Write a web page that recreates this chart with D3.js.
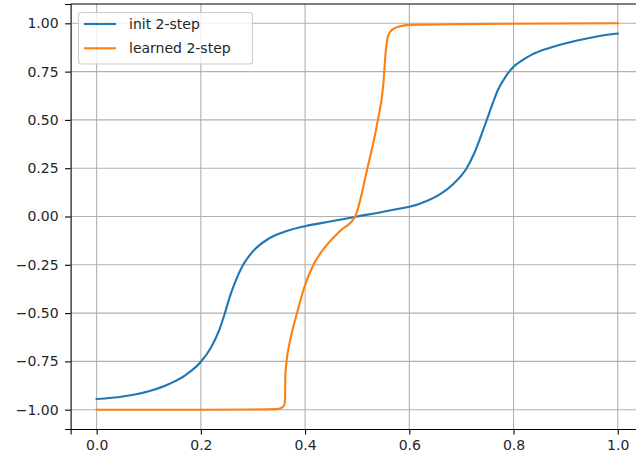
<!DOCTYPE html>
<html>
<head>
<meta charset="utf-8">
<script src="https://cdn.jsdelivr.net/npm/d3@7"></script>
<style>
    body { margin: 0; background: #fff; }
    svg { display: block; font-family: "DejaVu Sans", sans-serif; }
</style>
</head>
<body>
<svg id="chart"></svg>
<script>
    /**
     * @Data
     */
    const initX = [0.00, 0.05, 0.10, 0.14, 0.17, 0.20, 0.22, 0.235, 0.245, 0.255, 0.265, 0.28, 0.30, 0.33, 0.365,
        0.40, 0.45, 0.50, 0.56, 0.62, 0.66, 0.685, 0.71, 0.725, 0.74, 0.75, 0.76, 0.77, 0.785, 0.80, 0.815, 0.835, 0.87,
        0.92, 0.96, 1.00]
    const initY = [-0.945, -0.932, -0.905, -0.866, -0.822, -0.752, -0.675, -0.59, -0.51, -0.42, -0.345, -0.255, -0.18, -0.115, -0.075,
        -0.05, -0.025, 0.00, 0.03, 0.066, 0.117, 0.17, 0.25, 0.33, 0.435, 0.51, 0.585, 0.655, 0.725, 0.775, 0.805, 0.838, 0.874,
        0.91, 0.932, 0.947]

    const learnedX = [0.00, 0.10, 0.20, 0.30, 0.345, 0.355, 0.360, 0.3615, 0.362, 0.364, 0.367, 0.371, 0.377, 0.384, 0.398,
        0.416, 0.441, 0.467, 0.496, 0.52, 0.539, 0.550, 0.555, 0.558, 0.563, 0.572, 0.582, 0.60, 0.70, 0.80, 0.90, 1.00]
    const learnedY = [-1.0, -1.0, -1.0, -0.999, -0.997, -0.99, -0.975, -0.95, -0.83, -0.76, -0.70, -0.645, -0.575, -0.505, -0.37,
        -0.25, -0.15, -0.075, 0.0, 0.255, 0.49, 0.68, 0.86, 0.92, 0.955, 0.975, 0.985, 0.992, 0.996, 0.998, 0.999, 1.0]

    const xTicks = [0.0, 0.2, 0.4, 0.6, 0.8, 1.0]
    const yTicks = [-1.00, -0.75, -0.50, -0.25, 0.00, 0.25, 0.50, 0.75, 1.00]

    const seriesNames = ['init 2-step', 'learned 2-step']
    const seriesColors = ['#1f77b4', '#ff7f0e']

    const series = [
        initX.map((x, i) => ({ x: x, y: initY[i] })),
        learnedX.map((x, i) => ({ x: x, y: learnedY[i] }))
    ]

    /**
     * @Container
     */
    const W = 636
    const H = 459
    const FONT = 14

    const svg = d3.select('#chart')
        .attr('width', W)
        .attr('height', H)

    // matplotlib style 5% margins, right spine falls outside the picture
    const scaleX = d3.scaleLinear().domain([-0.05, 1.05]).range([70.6, 643.8])
    const scaleY = d3.scaleLinear().domain([-1.1, 1.1]).range([429, 4])

    const fmtY = d => d3.format('.2f')(d).replace('-', '\u2212')
    const fmtX = d => d3.format('.1f')(d)

    /**
     * @Grid
     */
    const grid = svg.append('g')
    grid.selectAll('.gx')
        .data(xTicks)
        .enter()
        .append('line')
        .attr('x1', d => scaleX(d))
        .attr('x2', d => scaleX(d))
        .attr('y1', scaleY.range()[0])
        .attr('y2', scaleY.range()[1])
        .attr('stroke', '#b0b0b0')
        .attr('stroke-width', 1.1)
    grid.selectAll('.gy')
        .data(yTicks)
        .enter()
        .append('line')
        .attr('x1', scaleX.range()[0])
        .attr('x2', scaleX.range()[1])
        .attr('y1', d => scaleY(d))
        .attr('y2', d => scaleY(d))
        .attr('stroke', '#b0b0b0')
        .attr('stroke-width', 1.1)

    /**
     * @Lines
     */
    const line = d3.line()
        .x(d => scaleX(d.x))
        .y(d => scaleY(d.y))
        .curve(d3.curveMonotoneX)

    svg.append('g')
        .selectAll('path')
        .data(series)
        .enter()
        .append('path')
        .attr('d', line)
        .attr('fill', 'none')
        .attr('stroke', (d, i) => seriesColors[i])
        .attr('stroke-width', 2.1)
        .attr('stroke-linejoin', 'round')
        .attr('stroke-linecap', 'square')

    /**
     * @Axes
     */
    const axisX = svg.append('g')
        .attr('transform', `translate(0,${scaleY.range()[0]})`)
        .call(d3.axisBottom(scaleX).tickValues(xTicks).tickFormat(fmtX).tickSize(5.5).tickPadding(5.5))
    const axisY = svg.append('g')
        .attr('transform', `translate(${scaleX.range()[0]},0)`)
        .call(d3.axisLeft(scaleY).tickValues(yTicks).tickFormat(fmtY).tickSize(5.5).tickPadding(6.5))

    ;[axisX, axisY].forEach(a => {
        a.selectAll('text')
            .attr('fill', '#262626')
            .style('font-size', FONT + 'px')
            .style('font-family', '"DejaVu Sans", sans-serif')
        a.selectAll('line').attr('stroke', '#000').attr('stroke-width', 1.1)
        a.select('.domain').attr('stroke', '#000').attr('stroke-width', 1.1)
    })

    // top spine
    svg.append('line')
        .attr('x1', scaleX.range()[0])
        .attr('x2', scaleX.range()[1])
        .attr('y1', scaleY.range()[1])
        .attr('y2', scaleY.range()[1])
        .attr('stroke', '#000')
        .attr('stroke-width', 1.1)

    /**
     * @Legend
     */
    const legend = svg.append('g')
    legend.append('rect')
        .attr('x', 78.5)
        .attr('y', 12.5)
        .attr('width', 174)
        .attr('height', 51.5)
        .attr('rx', 3)
        .attr('fill', '#fff')
        .attr('fill-opacity', 0.8)
        .attr('stroke', '#cccccc')
        .attr('stroke-width', 1.1)

    const items = legend.selectAll('.item')
        .data(seriesNames)
        .enter()
        .append('g')
        .attr('transform', (d, i) => `translate(0,${24 + i * 24.3})`)
    items.append('line')
        .attr('x1', 84)
        .attr('x2', 116)
        .attr('y1', 0)
        .attr('y2', 0)
        .attr('stroke', (d, i) => seriesColors[i])
        .attr('stroke-width', 2.1)
    items.append('text')
        .attr('x', 129)
        .attr('y', 0)
        .attr('dy', '0.35em')
        .attr('fill', '#262626')
        .style('font-size', FONT + 'px')
        .text(d => d)
</script>
</body>
</html>
